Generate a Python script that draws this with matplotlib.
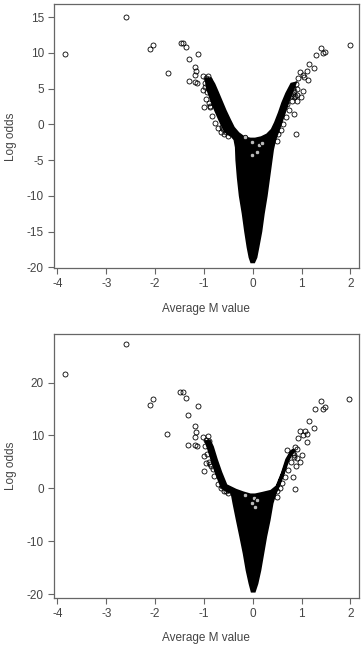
import numpy as np
import matplotlib.pyplot as plt

plt.rcParams['font.family'] = ['Liberation Sans', 'DejaVu Sans']

# ---- top panel: scattered (non-dense) points ----
top_x = [-3.84, -2.60, -2.10, -2.05, -1.73, -1.47, -1.42, -1.37, -1.12, -1.31,
         -1.18, -1.17, -1.18, -1.31, -1.18, -1.14, -1.01, -0.92, -1.01, -0.99,
         -0.95, -0.88, -0.62, -0.55, -0.60,
         1.99, 1.40, 1.44, 1.48, 1.29, 1.16, 1.26, 1.11, 1.13, 0.97,
         1.02, 1.06, 0.92, 0.88, 0.82, 0.85, 1.02, 0.90, 0.84, 0.99,
         0.90, 0.84, 0.88, 0.49, 0.71,
         -0.97, -0.93, -0.90, -0.87, -0.83, -0.78, -0.71, -0.66, -0.58, -0.50,
         -0.95, -0.90, -0.98,
         0.90, 0.86, 0.80, 0.74, 0.68, 0.62, 0.57, 0.52, 0.78, 0.82]
top_y = [9.81, 15.05, 10.55, 11.15, 7.25, 11.43, 11.38, 10.87, 9.85, 9.16,
         8.09, 7.53, 6.84, 6.05, 5.96, 5.82, 6.70, 6.70, 4.75, 2.43,
         3.50, 2.48, -0.35, -1.13, -0.67,
         11.13, 10.66, 10.00, 10.18, 9.67, 8.50, 7.86, 7.53, 6.19, 7.30,
         6.93, 6.60, 6.50, 5.58, 5.03, 4.70, 4.66, 4.10, 3.88, 3.78,
         3.27, 1.51, -1.41, -2.38, 2.84,
         5.80, 4.50, 3.00, 2.60, 1.20, 0.20, -0.50, -1.10, -1.40, -1.70,
         6.50, 6.30, 5.20,
         5.00, 4.00, 3.20, 2.00, 1.00, 0.00, -0.80, -1.40, 3.90, 4.30]

# dense core outline (thousands of overlapping points)
top_core_x = [-0.95, -0.92, -0.85, -0.77, -0.68, -0.60, -0.52, -0.42, -0.36, -0.33,
              -0.32, -0.29, -0.25, -0.19, -0.14, -0.09, -0.05, -0.02, 0.02, 0.06,
              0.10, 0.16, 0.21, 0.27, 0.32, 0.37, 0.40, 0.44, 0.48, 0.53,
              0.60, 0.67, 0.74, 0.81, 0.86,
              0.80, 0.70, 0.62, 0.55, 0.47, 0.40, 0.30, 0.18, 0.05, -0.05,
              -0.18, -0.30, -0.40, -0.48, -0.57, -0.65, -0.73, -0.80, -0.86]
top_core_y = [6.3, 5.0, 3.6, 2.2, 0.8, -0.4, -1.2, -1.6, -2.1, -3.2,
              -5.0, -7.5, -10.0, -12.5, -15.0, -17.2, -18.6, -19.2, -19.2, -18.6,
              -17.2, -15.0, -12.5, -10.0, -7.5, -5.0, -3.5, -2.3, -1.5, -0.6,
              0.8, 2.2, 3.6, 4.8, 5.7,
              5.6, 4.3, 3.0, 1.6, 0.2, -0.8, -1.5, -1.9, -2.1, -2.1,
              -1.9, -1.3, -0.5, 0.6, 1.9, 3.2, 4.5, 5.6, 6.3]

top_inner_x = [-0.15, -0.02, 0.12, 0.19, 0.09, -0.02]
top_inner_y = [-1.72, -2.42, -2.88, -2.65, -3.82, -4.28]

# ---- bottom panel ----
bot_x = [-3.84, -2.60, -2.10, -2.05, -1.75, -1.48, -1.43, -1.37, -1.12, -1.32,
         -1.18, -1.17, -1.18, -1.32, -1.18, -1.14, -1.01, -0.92, -0.99, -0.99,
         -0.95, -0.88, -0.62, -0.55, -0.82,
         1.97, 1.39, 1.43, 1.48, 1.28, 1.16, 1.26, 1.11, 1.12, 0.97,
         1.02, 1.07, 0.92, 0.87, 0.82, 0.85, 1.01, 0.90, 0.82, 0.97,
         0.88, 0.87, 0.49, 0.71,
         -0.97, -0.93, -0.90, -0.86, -0.80, -0.72, -0.65, -0.58, -0.50,
         -0.95, -0.90,
         0.90, 0.85, 0.78, 0.72, 0.66, 0.60, 0.55, 0.50]
bot_y = [21.58, 27.26, 15.84, 16.97, 10.22, 18.23, 18.17, 17.10, 15.52, 13.82,
         11.86, 10.73, 9.72, 8.26, 8.26, 8.00, 9.78, 9.84, 6.18, 3.28,
         4.73, 4.60, 0.44, -0.57, 3.60,
         16.90, 16.60, 15.08, 15.46, 14.95, 12.68, 11.42, 10.35, 8.71, 10.90,
         10.16, 10.90, 9.59, 7.89, 6.69, 6.37, 6.31, 5.68, 2.20, 5.05,
         4.23, -0.06, -1.58, 7.26,
         8.00, 6.50, 5.00, 4.20, 2.40, 0.90, 0.10, -0.50, -0.90,
         9.20, 8.90,
         7.50, 6.00, 5.00, 3.50, 2.20, 1.00, 0.00, -0.60]

bot_core_x = [-0.95, -0.90, -0.83, -0.74, -0.63, -0.52, -0.42, -0.38, -0.31, -0.24,
              -0.17, -0.11, -0.05, -0.01, 0.03, 0.08, 0.14, 0.20, 0.26, 0.33,
              0.39, 0.45, 0.51, 0.62, 0.72, 0.80, 0.86,
              0.80, 0.70, 0.61, 0.50, 0.38, 0.20, 0.05, -0.05, -0.20, -0.35,
              -0.55, -0.66, -0.75, -0.83, -0.88]
bot_core_y = [8.8, 7.5, 5.4, 2.9, 0.3, -0.5, -0.8, -2.8, -6.0, -9.1,
              -12.3, -15.5, -18.0, -19.4, -19.4, -18.0, -15.5, -12.3, -9.1, -6.0,
              -2.8, -1.0, 0.2, 2.8, 5.4, 6.8, 7.2,
              7.0, 5.4, 2.8, 0.3, -0.6, -1.0, -1.3, -1.3, -0.9, -0.4,
              0.5, 3.0, 5.4, 7.8, 8.8]

bot_inner_x = [-0.15, 0.02, 0.09, -0.02, 0.05]
bot_inner_y = [-1.27, -1.90, -2.22, -2.84, -3.48]

xticks = [-4, -3, -2, -1, 0, 1, 2]
top_yticks = [-20, -15, -10, -5, 0, 5, 10, 15]
bot_yticks = [-20, -10, 0, 10, 20]

fig = plt.figure(figsize=(3.64, 6.45), dpi=100)
ax1 = fig.add_axes([0.1484, 0.584, 0.837, 0.4093])
ax2 = fig.add_axes([0.1484, 0.0733, 0.837, 0.4089])

spine_col = '#666666'
text_col = '#444444'


def draw(ax, px, py, cx, cy, ix, iy, yticks, ylim):
    ax.fill(cx, cy, color='black', lw=2.5, ec='black', zorder=2)
    ax.plot(px, py, 'o', ms=3.6, mfc='none', mec='black', mew=0.6, zorder=3)
    ax.plot(ix, iy, 'o', ms=3.2, mfc='#bbbbbb', mec='black', mew=0.6, zorder=3)
    ax.set_xlim(-4.07, 2.17)
    ax.set_ylim(*ylim)
    ax.set_xticks(xticks)
    ax.set_xticklabels([str(t) for t in xticks])
    ax.set_yticks(yticks)
    ax.set_yticklabels([str(t) for t in yticks])
    for s in ax.spines.values():
        s.set_color(spine_col)
        s.set_linewidth(0.9)
    ax.tick_params(direction='out', length=4.3, width=0.8, color=spine_col,
                   labelsize=8.5, labelcolor=text_col, pad=3)
    ax.set_xlabel('Average M value', fontsize=8.5, color=text_col, labelpad=9)
    ax.set_ylabel('Log odds', fontsize=8.5, color=text_col, labelpad=7)


draw(ax1, top_x, top_y, top_core_x, top_core_y, top_inner_x, top_inner_y,
     top_yticks, (-20.15, 16.8))
draw(ax2, bot_x, bot_y, bot_core_x, bot_core_y, bot_inner_x, bot_inner_y,
     bot_yticks, (-20.7, 29.2))

fig.savefig('out.png', dpi=100)
